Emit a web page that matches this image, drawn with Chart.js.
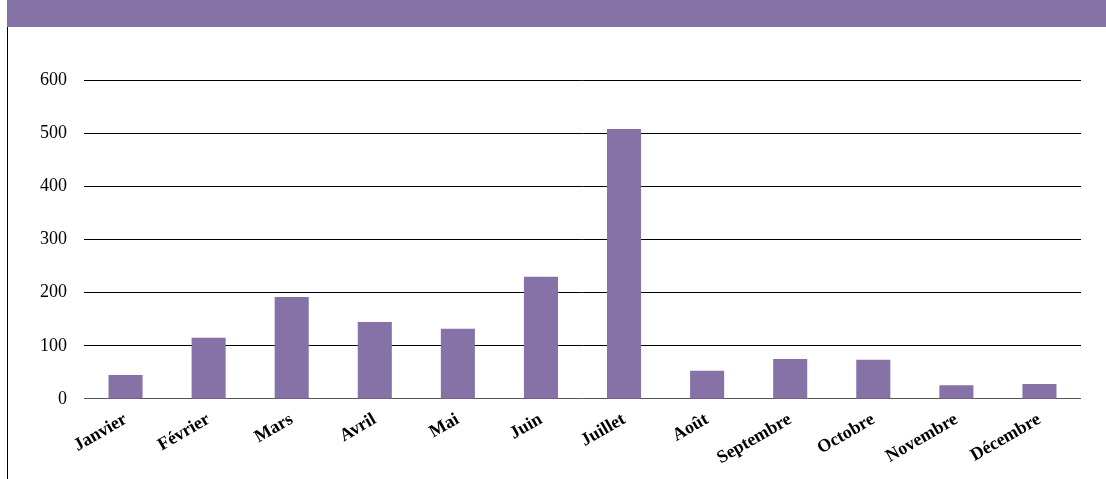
<!DOCTYPE html>
<html>
<head>
<meta charset="utf-8">
<script src="https://cdn.jsdelivr.net/npm/chart.js@4.4.0/dist/chart.umd.min.js"></script>
<style>
  html, body { margin: 0; padding: 0; background: #fff; }
  #wrap { position: relative; width: 1106px; height: 479px; overflow: hidden; }
  #bandeau { position: absolute; left: 7px; top: 0; width: 1099px; height: 27px; background: #8772a7; }
  #bord { position: absolute; left: 7px; top: 27px; width: 1px; height: 452px; background: #000; }
  #graph { position: absolute; left: 0; top: 0; }
</style>
</head>
<body>
<div id="wrap">
  <canvas id="graph" width="1106" height="479"></canvas>
  <div id="bandeau"></div>
  <div id="bord"></div>
</div>
<script>
// mois et valeurs
const mois = ['Janvier', 'Février', 'Mars', 'Avril', 'Mai', 'Juin', 'Juillet', 'Août', 'Septembre', 'Octobre', 'Novembre', 'Décembre'];
const valeurs = [45, 115, 192, 145, 132, 230, 508, 53, 75, 74, 26, 28];
const graduations = [0, 100, 200, 300, 400, 500, 600];

const ctx = document.getElementById('graph').getContext('2d');
const chart = new Chart(ctx, {
    type: 'bar',
    data: {
        labels: mois,
        datasets: [{
            data: valeurs,
            backgroundColor: '#8772a7',
            barPercentage: 0.41,
            categoryPercentage: 1
        }]
    },
    options: {
        responsive: false,
        animation: false,
        layout: {
            padding: { top: 80, right: 25, bottom: 8, left: 20 }
        },
        plugins: {
            legend: { display: false },
            tooltip: { enabled: false }
        },
        scales: {
            x: {
                grid: { display: false },
                border: { display: false },
                ticks: {
                    color: '#000',
                    maxRotation: 30,
                    minRotation: 30,
                    padding: 2,
                    font: { family: 'Liberation Serif', size: 18, weight: 'bold' }
                }
            },
            y: {
                min: 0,
                max: 600,
                afterBuildTicks: (axis) => {
                    axis.ticks = graduations.map(v => ({ value: v }));
                },
                afterFit: (axis) => {
                    axis.width = 64;
                },
                border: { display: false },
                grid: {
                    drawTicks: false,
                    lineWidth: 1,
                    color: (c) => c.index === 0 ? '#555' : '#000'
                },
                ticks: {
                    color: '#000',
                    padding: 17,
                    font: { family: 'Liberation Serif', size: 18 }
                }
            }
        }
    }
});
</script>
</body>
</html>
